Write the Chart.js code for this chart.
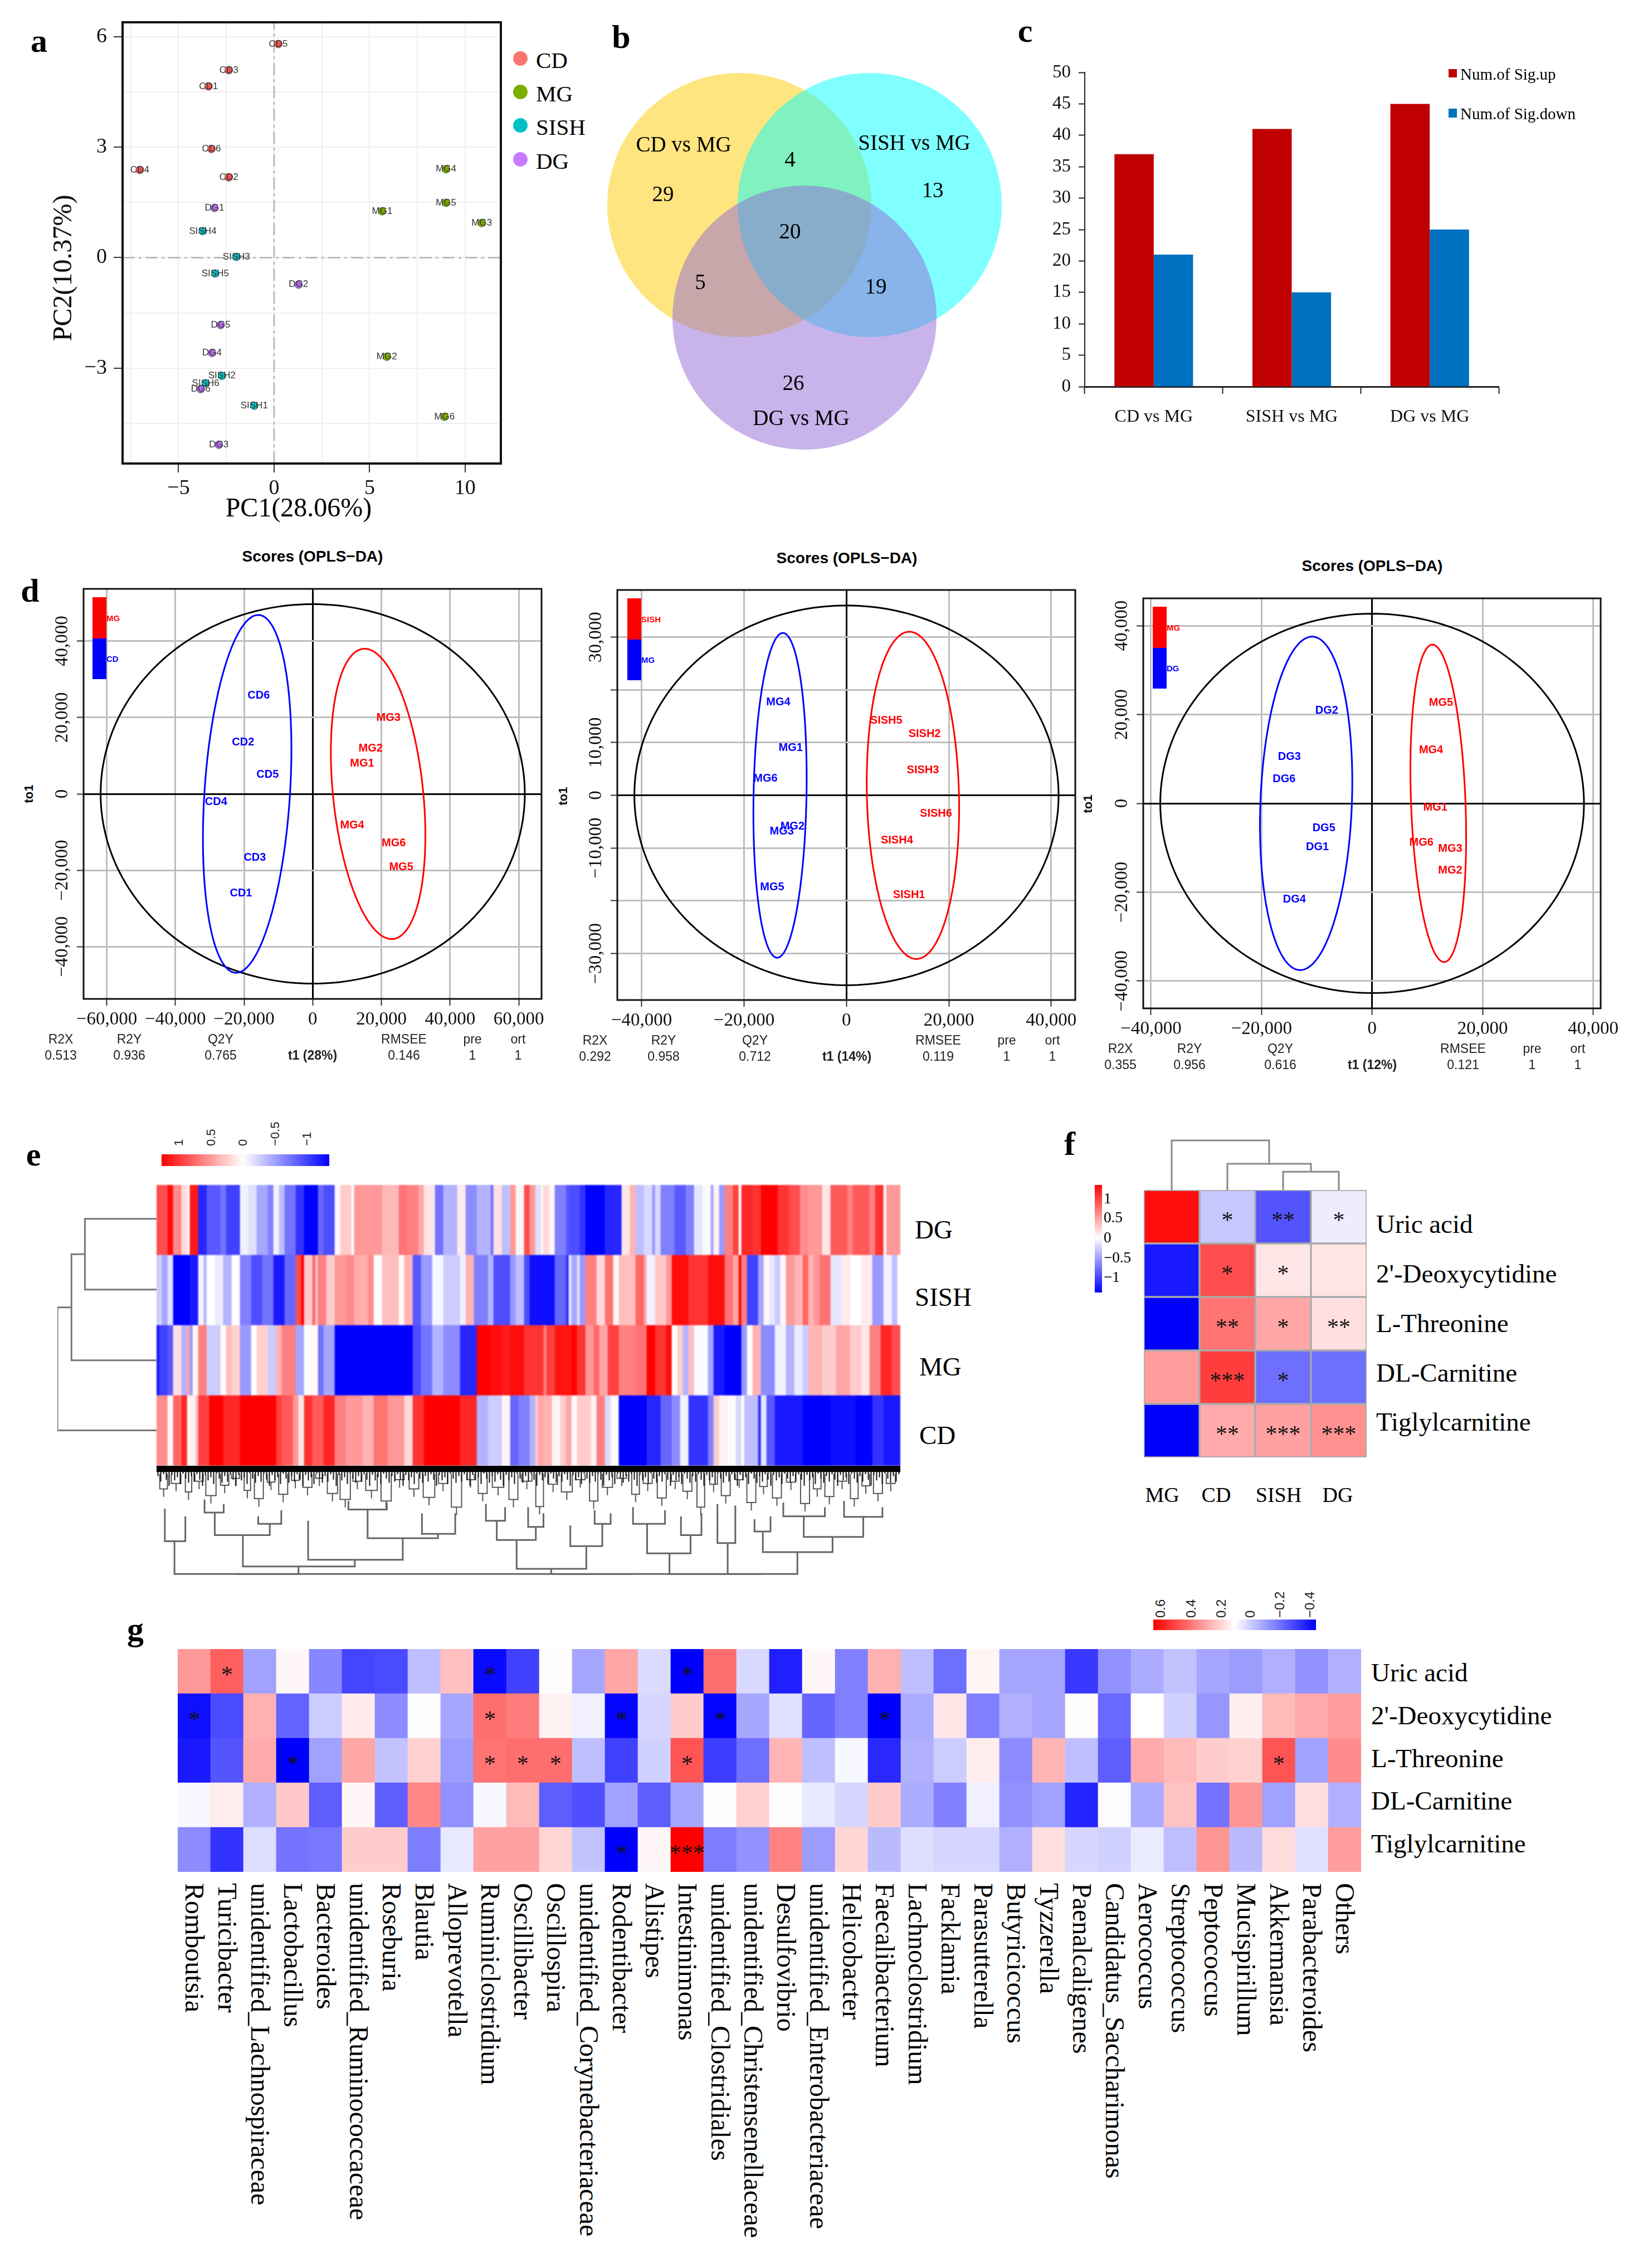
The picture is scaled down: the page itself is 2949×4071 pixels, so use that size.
<!DOCTYPE html>
<html>
<head>
<meta charset="utf-8">
<script src="https://cdn.jsdelivr.net/npm/chart.js@4/dist/chart.umd.js"></script>
<style>
  html, body { margin: 0; background: #fff; }
  #page { position: relative; width: 2949px; height: 4071px; overflow: hidden; background: #fff; }
</style>
</head>
<body>
<div id="page"></div>
<script>
const SERIF = '"Liberation Serif"';
const SANS = '"Liberation Sans"';

/* ===== a: PCA ===== */
const sampleCD = ["CD1", "CD2", "CD3", "CD4", "CD5", "CD6"];
const sampleMG = ["MG1", "MG2", "MG3", "MG4", "MG5", "MG6"];
const sampleSISH = ["SISH1", "SISH2", "SISH3", "SISH4", "SISH5", "SISH6"];
const sampleDG = ["DG1", "DG2", "DG3", "DG4", "DG5", "DG6"];
const pcaCDx = [-3.43, -2.37, -2.37, -7.03, 0.22, -3.28];
const pcaCDy = [4.65, 2.18, 5.09, 2.38, 5.8, 2.95];
const pcaMGx = [5.66, 5.9, 10.87, 9.0, 9.0, 8.92];
const pcaMGy = [1.26, -2.69, 0.94, 2.4, 1.49, -4.32];
const pcaSISHx = [-1.04, -2.73, -1.97, -3.73, -3.08, -3.58];
const pcaSISHy = [-4.02, -3.21, 0.02, 0.72, -0.43, -3.41];
const pcaDGx = [-3.12, 1.28, -2.89, -3.25, -2.8, -3.84];
const pcaDGy = [1.35, -0.73, -5.08, -2.59, -1.83, -3.57];
const pcaXGrid = [-7.5, -5, -2.5, 0, 2.5, 5, 7.5, 10];
const pcaYGrid = [-4.5, -3, -1.5, 0, 1.5, 3, 4.5, 6];

/* ===== b: venn ===== */
const vennNames = ["CD vs MG", "SISH vs MG", "DG vs MG"];
const vennX = [247, 481, 364];
const vennY = [452, 452, 250];

/* ===== c: bars ===== */
const barCategories = ["CD vs MG", "SISH vs MG", "DG vs MG"];
const sigUp = [37, 41, 45];
const sigDown = [21, 15, 25];

/* ===== d: OPLS-DA scores ===== */
const d1BlueNames = ["CD1", "CD2", "CD3", "CD4", "CD5", "CD6"];
const d1BlueX = [-20900, -20280, -16860, -28140, -13140, -15730];
const d1BlueY = [-25970, 13480, -16760, -2100, 5010, 25780];
const d1RedNames = ["MG1", "MG2", "MG3", "MG4", "MG5", "MG6"];
const d1RedX = [14380, 16860, 22040, 11480, 25760, 23590];
const d1RedY = [7930, 11840, 19950, -8200, -19130, -12940];

const d2BlueNames = ["MG1", "MG2", "MG3", "MG4", "MG5", "MG6"];
const d2BlueX = [-10890, -10550, -12630, -13320, -14500, -15820];
const d2BlueY = [8980, -5870, -6860, 17690, -17430, 3170];
const d2RedNames = ["SISH1", "SISH2", "SISH3", "SISH4", "SISH5", "SISH6"];
const d2RedX = [12210, 15260, 14920, 9850, 7770, 17480];
const d2RedY = [-18940, 11620, 4820, -8510, 14130, -3430];

const d3BlueNames = ["DG1", "DG2", "DG3", "DG4", "DG5", "DG6"];
const d3BlueX = [-9890, -8220, -14960, -14060, -8730, -15920];
const d3BlueY = [-9870, 20920, 10420, -21630, -5560, 5410];
const d3RedNames = ["MG1", "MG2", "MG3", "MG4", "MG5", "MG6"];
const d3RedX = [11430, 14130, 14130, 10660, 12460, 8920];
const d3RedY = [-940, -15120, -10190, 11990, 22640, -8780];

/* ===== e: heatmap, runs of [number of metabolites, scaled value] ===== */
const heatGroups = ["DG", "SISH", "MG", "CD"];
const stripsDG = [[4,.7],[2,.95],[3,.45],[2,.15],[1,.05],[3,.9],[3,-.85],[5,-.65],[2,-.55],[5,-.75],[3,-.05],[3,-.12],[4,-.35],[2,-.5],[2,-.05],[2,-.25],[4,-.55],[3,-.8],[5,-1],[2,-.6],[4,-.7],[2,.02],[4,.2],[1,.02],[10,.4],[6,.28],[3,.55],[4,.5],[2,.35],[4,.1],[3,-.55],[5,-.3],[3,.08],[4,-.45],[5,-.3],[1,-.55],[3,.12],[3,-.25],[2,.4],[3,.03],[2,.7],
  [2,.4],[2,-.12],[1,.05],[2,.15],[2,.03],[4,-.5],[1,-.65],[4,-.7],[2,-.8],[7,-1],[6,-.85],[3,.1],[2,.3],[3,-.25],[3,-.15],[1,-.4],[2,-.15],[5,-.5],[4,-.65],[3,-.5],[3,-.1],[3,-.02],[1,-.35],[2,.05],[2,-.4],[3,.5],[2,.75],[1,.02],[4,.85],[3,.8],[6,1],[4,.8],[4,.7],[3,.45],[5,.4],[3,.1],[6,.65],[2,.5],[6,.65],[2,.5],[3,.8],[1,.02],[5,.4]];
const stripsSISH = [[2,-.2],[2,-.35],[2,-.12],[6,-1],[3,-.9],[2,-.05],[1,-.3],[3,0],[3,-.08],[3,-.3],[3,0],[4,-.5],[4,-.7],[4,-.55],[4,-.9],[4,-.6],[2,.7],[1,1],[3,.2],[1,.6],[1,.25],[3,.5],[3,.2],[4,.4],[3,.45],[5,.32],[2,.45],[3,0],[6,.25],[2,.03],[3,.3],[3,-.65],[4,-.4],[4,-.03],[6,-.2],[2,-.05],[3,.3],[5,-.5],[2,-.3],[6,-.7],[2,-.4],[3,-.25],[2,-.7],
  [9,-.95],[4,-.6],[1,-.8],[1,-.1],[2,-.35],[1,-.12],[2,-.4],[4,.5],[3,.15],[3,.55],[2,.03],[6,.25],[3,.6],[1,.35],[3,-.05],[4,.22],[2,.4],[6,.95],[7,.8],[6,.95],[3,.55],[2,.35],[1,.95],[2,.5],[4,-.75],[2,-.35],[2,.03],[2,-.1],[2,-.2],[2,.03],[3,.4],[3,.3],[2,.6],[2,.3],[2,.4],[4,.55],[4,-.1],[3,.08],[4,0],[4,.08],[4,-.4],[3,-.05],[2,-.25],[1,0]];
const stripsMG = [[1,-.9],[3,-.75],[2,-.65],[3,.12],[2,-.3],[1,.35],[1,-.4],[2,.03],[3,.5],[5,-.2],[2,.02],[2,.25],[3,.18],[4,-.4],[2,0],[4,.18],[3,-.2],[2,.3],[5,.5],[3,-.35],[2,0],[3,.02],[2,-.55],[4,-.35],[28,-1],[3,-.7],[4,-.55],[4,-.3],[6,-.45],[6,-.85],[5,1],[4,.95],[3,.9],[5,.95],[2,.8],
  [5,.8],[1,.5],[3,.75],[6,.92],[2,1],[3,.8],[3,.4],[2,.6],[3,.35],[4,.75],[6,.5],[4,.55],[3,1],[4,.8],[2,.95],[2,0],[2,.2],[2,-.3],[2,.25],[5,-.02],[2,-.35],[4,-.9],[6,-1],[2,-.4],[2,0],[3,.3],[5,-.45],[4,-.05],[3,-.3],[3,-.08],[2,-.2],[5,.3],[5,.2],[5,.35],[4,.2],[3,.1],[4,.5],[4,.85],[3,.7]];
const stripsCD = [[4,.45],[2,.02],[3,.6],[2,.85],[3,.05],[1,.25],[4,.75],[5,1],[6,.85],[13,1],[2,.75],[4,.65],[2,.4],[2,.1],[3,.8],[4,.65],[4,.85],[4,.5],[6,.4],[4,.3],[5,.55],[6,.4],[3,.15],[4,.8],[13,1],[6,.85],[4,-.3],[5,-.2],[3,.03],[3,-.6],[4,-.5],
  [2,-.3],[1,.2],[2,.35],[3,.3],[3,.05],[2,.2],[2,.35],[2,.02],[5,.2],[2,.05],[3,.5],[2,-.15],[3,-.02],[10,-1],[5,-.85],[4,-.6],[3,-.45],[3,-.05],[7,-.8],[2,-.5],[2,.2],[3,.05],[3,.02],[2,-.15],[1,0],[5,-.25],[1,-.8],[2,-.1],[3,-.65],[10,-.9],[10,-1],[9,-.95],[6,-1],[4,-.8],[6,-.9]];
/* e: dendrograms, [from, to, level, end of first arm, end of second arm] */
const heatRowTree = [[133,347,581,245,245],[112,464,815,133,245],[90,640,1047,112,245]];
const heatColTree = [[273,1247,1520,1412,1448],[380,555,1495,1392,1473],[482,630,1473,1345,1402],[336,422,1392,1318,1355],[258,290,1412,1305,1330],[575,685,1402,1308,1388],[660,712,1388,1320,1320],[808,917,1503,1408,1428],[777,838,1408,1345,1365],[892,942,1428,1360,1355],[1012,1080,1452,1355,1392],[1065,1097,1392,1330,1320],[990,1040,1355,1300,1310],[1122,1150,1418,1290,1295],[1193,1302,1448,1380,1398],[1257,1350,1398,1330,1332],[1180,1205,1380,1340,1330],[1320,1380,1332,1280,1300],[404,440,1355,1330,1310],[320,350,1318,1275,1290],[760,790,1345,1290,1300],[826,850,1365,1300,1320],[930,955,1355,1310,1320],[545,605,1308,1280,1285],[1225,1290,1330,1285,1300],[467,467,1520,1495,1495],[862,862,1520,1503,1503],[1047,1047,1520,1452,1452],[1138,1138,1520,1418,1418],[370,467,1521,1521,1521],[862,990,1521,1521,1521],[1045,1135,1521,1521,1521],[1138,1192,1521,1521,1521]];
const heatTwigs = [[250,262,1240],[268,283,1222],[290,300,1250],[305,318,1215],[322,338,1262],[345,358,1228],[362,375,1205],[382,392,1245],[398,412,1272],[418,430,1218],[436,450,1258],[456,468,1212],[474,488,1235],[494,505,1205],[512,528,1255],[532,548,1275],[552,566,1215],[572,590,1245],[596,612,1280],[618,632,1210],[640,655,1240],[662,680,1268],[686,700,1222],[706,722,1300],[730,742,1210],[748,762,1255],[770,788,1235],[796,810,1275],[816,832,1215],[838,850,1298],[858,872,1225],[878,895,1250],[900,915,1210],[922,935,1280],[942,958,1235],[965,980,1205],[988,1000,1258],[1006,1020,1222],[1028,1042,1270],[1050,1062,1215],[1068,1082,1248],[1090,1102,1300],[1110,1122,1225],[1128,1142,1262],[1150,1162,1210],[1168,1182,1285],[1188,1200,1232],[1208,1222,1270],[1230,1244,1218],[1252,1266,1288],[1272,1284,1240],[1290,1304,1265],[1310,1324,1215],[1330,1342,1272],[1348,1360,1230],[1366,1380,1255],[1386,1400,1222]];
const leafDrop = [34, 52, 28, 46, 66, 30, 48, 38, 60, 26, 42, 56];

/* ===== f: metabolite heatmap ===== */
const metabolites = ["Uric acid", "2'-Deoxycytidine", "L-Threonine", "DL-Carnitine", "Tiglylcarnitine"];
const fGroups = ["MG", "CD", "SISH", "DG"];
const fUric = [0.95, -0.22, -0.67, -0.07];
const fDeoxy = [-0.9, 0.7, 0.1, 0.1];
const fThreonine = [-1, 0.55, 0.35, 0.12];
const fCarnitine = [0.39, 0.76, -0.57, -0.57];
const fTiglyl = [-1, 0.33, 0.37, 0.43];
const fStars = [[1,0,"*"],[2,0,"**"],[3,0,"*"],[1,1,"*"],[2,1,"*"],[1,2,"**"],[2,2,"*"],[3,2,"**"],[1,3,"***"],[2,3,"*"],[1,4,"**"],[2,4,"***"],[3,4,"***"]];
const fTree = [[0.5,2.25,187,0,99],[1.5,3,99,0,69],[2.5,3.5,69,0,0]];

/* ===== g: genus correlation heatmap ===== */
const genera = ["Romboutsia","Turicibacter","unidentified_Lachnospiraceae","Lactobacillus","Bacteroides","unidentified_Ruminococcaceae","Roseburia","Blautia","Alloprevotella","Ruminiclostridium","Oscillibacter","Oscillospira","unidentified_Corynebacteriaceae","Rodentibacter","Alistipes","Intestinimonas","unidentified_Clostridiales","unidentified_Christensenellaceae","Desulfovibrio","unidentified_Enterobacteriaceae","Helicobacter","Faecalibacterium","Lachnoclostridium","Facklamia","Parasutterella","Butyricicoccus","Tyzzerella","Paenalcaligenes","Candidatus_Saccharimonas","Aerococcus","Streptococcus","Peptococcus","Mucispirillum","Akkermansia","Parabacteroides","Others"];
const gUric = [.4,.63,-.37,.03,-.47,-.73,-.71,-.25,.25,-.96,-.75,.01,-.35,.35,-.14,-1,.57,-.15,-.88,.03,-.5,.31,-.25,-.57,.04,-.35,-.35,-.78,-.43,-.33,-.24,-.35,-.39,-.31,-.43,-.31];
const gDeoxy = [-.94,-.71,.31,-.61,-.2,.08,-.45,-.01,-.35,.57,.51,.05,-.06,-.98,-.16,.2,-.98,-.35,-.12,-.6,-.5,-1,-.33,.1,-.5,-.31,-.35,.01,-.59,0,-.18,-.41,.06,.27,.33,.39];
const gThreonine = [-.9,-.67,.33,-1,-.37,.35,-.24,.18,-.39,.55,.57,.57,-.25,-.75,-.18,.67,-.76,-.57,.29,-.25,-.03,-.84,-.31,-.2,.07,-.45,.29,-.25,-.63,.33,.27,.2,.18,.67,-.37,.45];
const gCarnitine = [-.03,.07,-.31,.22,-.63,.03,-.63,.47,-.43,-.03,.27,-.63,-.69,-.37,-.63,-.35,.01,.18,-.01,-.09,-.16,.2,-.33,-.49,-.06,-.43,-.37,-.86,-.01,-.33,.24,-.55,.41,-.37,.13,-.31];
const gTiglyl = [-.45,-.8,-.13,-.55,-.53,.2,.2,-.51,-.09,.37,.37,.16,-.24,-1,.03,1,-.51,-.43,.49,-.39,.16,-.27,-.13,-.16,-.16,-.31,.13,-.16,-.18,-.08,-.25,.41,-.27,.14,-.12,.39];
const gStars = [[1,0,"*"],[9,0,"*"],[15,0,"*"],[0,1,"*"],[9,1,"*"],[13,1,"*"],[16,1,"*"],[21,1,"*"],[3,2,"*"],[9,2,"*"],[10,2,"*"],[11,2,"*"],[15,2,"*"],[33,2,"*"],[13,4,"*"],[15,4,"***"]];

const page = document.getElementById("page");
Chart.defaults.layout.autoPadding = false;

function place(x, y, w, h) {
  const c = document.createElement("canvas");
  c.width = w;
  c.height = h;
  c.style.cssText = `position:absolute;left:${x}px;top:${y}px;width:${w}px;height:${h}px`;
  page.appendChild(c);
  return c;
}

function label(text, x, y, o = {}) {
  const s = document.createElement("span");
  s.textContent = text;
  const ax = o.ax === undefined ? -50 : o.ax;
  s.style.cssText = `position:absolute;left:${x}px;top:${y}px;white-space:nowrap;font:${o.weight || "normal"} ${o.size || 32}px/1 ${o.font || SERIF};color:${o.color || "#000"};transform-origin:0 0;transform:rotate(${o.rot || 0}deg) translate(${ax}%,-50%)`;
  page.appendChild(s);
}

function box(x, y, w, h, css) {
  const d = document.createElement("div");
  d.style.cssText = `position:absolute;left:${x}px;top:${y}px;width:${w}px;height:${h}px;${css}`;
  page.appendChild(d);
}

function draw(canvas, config) {
  config.options = Object.assign(
    { responsive: false, animation: false, devicePixelRatio: 1 },
    config.options
  );
  config.options.plugins = { legend: { display: false }, tooltip: { enabled: false } };
  return new Chart(canvas, config);
}

const xy = (xs, ys) => xs.map((x, i) => ({ x: x, y: ys[i] }));
const minus = (v) => String(v).replace("-", "\u2212");
const thousands = (v) => minus(v.toLocaleString("en-US"));
const hidden = (min, max, extra) => Object.assign({ display: false, min: min, max: max }, extra);

// fixed axis size and no overflow padding, so the plot box lands where the figure has it
function fixAxis(s, size) {
  if (s.isHorizontal()) s.height = size;
  else s.width = size;
  s.paddingTop = s.paddingBottom = s.paddingLeft = s.paddingRight = 0;
}

function heatColor(v) {
  const c = Math.round(255 * (1 - Math.min(1, Math.abs(v))));
  return v >= 0 ? `rgb(255,${c},${c})` : `rgb(${c},${c},255)`;
}

/* plugins */
const framePlugin = (width, color) => ({
  id: "frame",
  afterDraw(chart) {
    const a = chart.chartArea, ctx = chart.ctx;
    ctx.save();
    ctx.strokeStyle = color;
    ctx.lineWidth = width;
    ctx.strokeRect(a.left, a.top, a.right - a.left, a.bottom - a.top);
    ctx.restore();
  },
});

const namesPlugin = (font) => ({
  id: "names",
  afterDatasetsDraw(chart) {
    const ctx = chart.ctx;
    ctx.save();
    ctx.font = font;
    ctx.textAlign = "center";
    ctx.textBaseline = "middle";
    chart.data.datasets.forEach((ds, i) => {
      if (!ds.names) return;
      ctx.fillStyle = ds.nameColor;
      chart.getDatasetMeta(i).data.forEach((pt, k) => ctx.fillText(ds.names[k], pt.x, pt.y));
    });
    ctx.restore();
  },
});

// ellipse: centre x, centre y, half width, half height, correlation, colour
const ellipsePlugin = (list) => ({
  id: "ellipses",
  afterDatasetsDraw(chart) {
    const ctx = chart.ctx, sx = chart.scales.x, sy = chart.scales.y;
    ctx.save();
    ctx.lineWidth = 3;
    list.forEach(([cx, cy, w, h, rho, color]) => {
      ctx.strokeStyle = color;
      ctx.beginPath();
      for (let t = 0; t <= 240; t++) {
        const a = (t / 240) * 2 * Math.PI;
        const px = sx.getPixelForValue(cx + w * Math.cos(a));
        const py = sy.getPixelForValue(cy + h * (rho * Math.cos(a) + Math.sqrt(1 - rho * rho) * Math.sin(a)));
        if (t === 0) ctx.moveTo(px, py);
        else ctx.lineTo(px, py);
      }
      ctx.closePath();
      ctx.stroke();
    });
    ctx.restore();
  },
});

const rotatedTicks = (values, x, font) => ({
  id: "rotatedTicks",
  afterDraw(chart) {
    const ctx = chart.ctx, sy = chart.scales.y;
    values.forEach((v) => {
      ctx.save();
      ctx.translate(x, sy.getPixelForValue(v));
      ctx.rotate(-Math.PI / 2);
      ctx.font = font;
      ctx.fillStyle = "#111";
      ctx.textAlign = "center";
      ctx.textBaseline = "middle";
      ctx.fillText(thousands(v), 0, 0);
      ctx.restore();
    });
  },
});

const starPlugin = (stars, nRows) => ({
  id: "stars",
  afterDatasetsDraw(chart) {
    const ctx = chart.ctx;
    ctx.save();
    ctx.font = "42px " + SERIF;
    ctx.fillStyle = "#111";
    ctx.textAlign = "center";
    ctx.textBaseline = "middle";
    stars.forEach(([col, row, text]) => {
      const px = chart.scales.x.getPixelForValue(col);
      const py = chart.scales.y.getPixelForValue(nRows - row - 0.5);
      ctx.fillText(text, px, py + 9);
    });
    ctx.restore();
  },
});

function heatmap(x, y, w, h, rows, border, plugins) {
  const canvas = place(x, y, w, h);
  draw(canvas, {
    type: "bar",
    data: {
      labels: rows[0].map((_, i) => i),
      datasets: rows.slice().reverse().map((r) => ({
        data: r.map(() => 1),
        backgroundColor: r.map(heatColor),
        borderWidth: border,
        borderColor: "#aaa",
        borderSkipped: false,
        barPercentage: 1,
        categoryPercentage: 1,
      })),
    },
    options: {
      scales: {
        x: { display: false, stacked: true },
        y: hidden(0, rows.length, { stacked: true }),
      },
    },
    plugins: plugins || [],
  });
  return canvas;
}

function treeSegments(tree) {
  const pts = [];
  tree.forEach(([a, b, level, endA, endB]) => {
    pts.push({ x: a, y: endA }, { x: a, y: level }, { x: b, y: level }, { x: b, y: endB }, { x: NaN, y: NaN });
  });
  return pts;
}

const treeLine = (data, color, width) => ({
  data: data,
  showLine: true,
  pointRadius: 0,
  borderColor: color,
  borderWidth: width,
  clip: 6,
});

/* ===== panel letters ===== */
[["a", 70, 73], ["b", 1115, 66], ["c", 1840, 55], ["d", 54, 1060], ["e", 60, 2072], ["f", 1920, 2053], ["g", 243, 2924]].forEach(
  ([t, x, y]) => label(t, x, y, { size: 60, weight: "bold" })
);

/* ===== a ===== */
const pcaColors = ["#E8564F", "#7CAE00", "#00BFC4", "#B56BEE"];
const pcaLegend = ["#F8766D", "#7CAE00", "#00BFC4", "#C77CFF"];
draw(place(60, 20, 849, 880), {
  type: "scatter",
  data: {
    datasets: [
      { data: xy(pcaCDx, pcaCDy), names: sampleCD, nameColor: "#333", backgroundColor: pcaColors[0], order: 1 },
      { data: xy(pcaMGx, pcaMGy), names: sampleMG, nameColor: "#333", backgroundColor: pcaColors[1], order: 1 },
      { data: xy(pcaSISHx, pcaSISHy), names: sampleSISH, nameColor: "#333", backgroundColor: pcaColors[2], order: 1 },
      { data: xy(pcaDGx, pcaDGy), names: sampleDG, nameColor: "#333", backgroundColor: pcaColors[3], order: 1 },
      { data: [{ x: -7.93, y: 0 }, { x: 11.87, y: 0 }], showLine: true, pointRadius: 0, borderColor: "#bbb", borderWidth: 3, borderDash: [22, 7, 5, 7], order: 5 },
      { data: [{ x: 0, y: -5.59 }, { x: 0, y: 6.39 }], showLine: true, pointRadius: 0, borderColor: "#bbb", borderWidth: 3, borderDash: [22, 7, 5, 7], order: 5 },
    ],
  },
  options: {
    layout: { padding: { top: 20, right: 10 } },
    elements: { point: { radius: 7, borderColor: "rgba(40,40,40,.65)", borderWidth: 1 } },
    scales: {
      x: {
        min: -7.93, max: 11.87,
        afterBuildTicks: (s) => { s.ticks = pcaXGrid.map((v) => ({ value: v })); },
        afterFit: (s) => fixAxis(s, 68),
        border: { display: false },
        grid: { color: "#efefef", lineWidth: 2, tickLength: 16, tickWidth: 2, tickColor: (c) => (c.tick.value % 5 === 0 ? "#333" : "transparent") },
        ticks: { autoSkip: false, maxRotation: 0, padding: 6, color: "#111", font: { family: SERIF, size: 38 }, callback: (v) => (v % 5 === 0 ? minus(v) : "") },
      },
      y: {
        min: -5.59, max: 6.39,
        afterBuildTicks: (s) => { s.ticks = pcaYGrid.map((v) => ({ value: v })); },
        afterFit: (s) => fixAxis(s, 160),
        border: { display: false },
        grid: { color: "#efefef", lineWidth: 2, tickLength: 16, tickWidth: 2, tickColor: (c) => (c.tick.value % 3 === 0 ? "#333" : "transparent") },
        ticks: { autoSkip: false, padding: 12, color: "#111", font: { family: SERIF, size: 38 }, callback: (v) => (v % 3 === 0 ? minus(v) : "") },
      },
    },
  },
  plugins: [framePlugin(4, "#111"), namesPlugin("17px " + SANS)],
});
label("PC1(28.06%)", 536, 911, { size: 48 });
label("PC2(10.37%)", 112, 481, { size: 48, rot: -90 });
["CD", "MG", "SISH", "DG"].forEach((g, i) => {
  const y = [105, 165, 225, 286][i];
  box(921, y - 13, 26, 26, `border-radius:50%;background:${pcaLegend[i]}`);
  label(g, 962, y + 3, { size: 41, ax: 0 });
});

/* ===== b ===== */
const vennFill = ["rgba(255,204,0,.5)", "rgba(0,255,255,.5)", "rgba(145,105,215,.5)"];
draw(place(1080, 120, 730, 700), {
  type: "bubble",
  data: {
    datasets: vennNames.map((n, i) => ({
      label: n,
      data: [{ x: vennX[i], y: vennY[i], r: 237 }],
      backgroundColor: vennFill[i],
      borderWidth: 0,
      clip: false,
      order: 3 - i,
    })),
  },
  options: { scales: { x: hidden(0, 730), y: hidden(0, 700) } },
});
[["CD vs MG", 1227, 258], ["SISH vs MG", 1641, 255], ["DG vs MG", 1438, 749], ["29", 1190, 347], ["4", 1418, 285], ["13", 1674, 340], ["20", 1418, 414], ["5", 1257, 505], ["19", 1572, 513], ["26", 1424, 686]].forEach(
  ([t, x, y]) => label(t, x, y, { size: 39 })
);

/* ===== c ===== */
draw(place(1880, 110, 820, 680), {
  type: "bar",
  data: {
    labels: barCategories,
    datasets: [
      { label: "Num.of Sig.up", data: sigUp, backgroundColor: "#C00000", barPercentage: 1, categoryPercentage: 0.57 },
      { label: "Num.of Sig.down", data: sigDown, backgroundColor: "#0070C0", barPercentage: 1, categoryPercentage: 0.57 },
    ],
  },
  options: {
    layout: { padding: { top: 20, right: 10 } },
    scales: {
      x: {
        afterFit: (s) => fixAxis(s, 96),
        border: { color: "#222", width: 3 },
        grid: { drawOnChartArea: false, offset: true, tickLength: 13, tickColor: "#222", tickWidth: 2 },
        ticks: { padding: 22, color: "#111", font: { family: SERIF, size: 32 } },
      },
      y: {
        min: 0, max: 50,
        afterFit: (s) => fixAxis(s, 67),
        border: { color: "#222", width: 2 },
        grid: { drawOnChartArea: false, tickLength: 11, tickColor: "#222", tickWidth: 2 },
        ticks: { stepSize: 5, padding: 14, color: "#111", font: { family: SERIF, size: 33 } },
      },
    },
  },
});
box(2600, 124, 15, 15, "background:#C00000");
label("Num.of Sig.up", 2621, 133, { size: 29, ax: 0 });
box(2600, 195, 15, 16, "background:#0070C0");
label("Num.of Sig.down", 2621, 204, { size: 29, ax: 0 });

/* ===== d ===== */
function scorePanel(p) {
  const ticksFont = { family: SERIF, size: 33 };
  draw(place(p.left - 70, p.top - 5, p.right - p.left + 115, p.bottom - p.top + 65), {
    type: "scatter",
    data: {
      datasets: [
        { data: xy(p.blueX, p.blueY), names: p.blueNames, nameColor: "#0000ff", pointRadius: 0 },
        { data: xy(p.redX, p.redY), names: p.redNames, nameColor: "#ff0000", pointRadius: 0 },
      ],
    },
    options: {
      layout: { padding: { top: 5, right: 45 } },
      scales: {
        x: {
          min: p.xMin, max: p.xMax,
          afterBuildTicks: (s) => { s.ticks = p.xTicks.map((v) => ({ value: v })); },
          afterFit: (s) => fixAxis(s, 60),
          border: { display: false },
          grid: { color: (c) => (c.tick.value === 0 ? "#000" : "#bebebe"), lineWidth: 3, tickLength: 12, tickWidth: 2, tickColor: "#333" },
          ticks: { autoSkip: false, maxRotation: 0, padding: 6, color: "#111", font: ticksFont, callback: (v) => thousands(v) },
        },
        y: {
          min: p.yMin, max: p.yMax,
          afterBuildTicks: (s) => { s.ticks = p.yTicks.map((v) => ({ value: v })); },
          afterFit: (s) => fixAxis(s, 70),
          border: { display: false },
          grid: { color: (c) => (c.tick.value === 0 ? "#000" : "#bebebe"), lineWidth: 3, tickLength: 12, tickWidth: 2, tickColor: "#333" },
          ticks: { display: false },
        },
      },
    },
    plugins: [framePlugin(3, "#111"), ellipsePlugin(p.ellipses), namesPlugin("bold 20px " + SANS), rotatedTicks(p.yLabels, 32, "33px " + SERIF)],
  });
  label("Scores (OPLS\u2212DA)", p.titleX, p.titleY, { size: 28, weight: "bold", font: SANS });
  label("to1", p.to1X, p.to1Y, { size: 22, weight: "bold", font: SANS, rot: -90 });
  const [ly1, ly2] = p.footY;
  ["R2X", "R2Y", "Q2Y", "", "RMSEE", "pre", "ort"].forEach((h, i) => {
    if (h) label(h, p.footX[i], ly1, { size: 23, font: SANS, color: "#222" });
    label(p.foot[i], p.footX[i], ly2, { size: 23, font: SANS, color: "#222", weight: i === 3 ? "bold" : "normal" });
  });
  box(p.legX, p.legY, 25, 74, "background:#f00");
  box(p.legX, p.legY + 74, 25, 73, "background:#00f");
  label(p.legend[0], p.legX + 25, p.legY + 37, { size: 15, weight: "bold", font: SANS, color: "#f00", ax: 0 });
  label(p.legend[1], p.legX + 25, p.legY + 110, { size: 15, weight: "bold", font: SANS, color: "#00f", ax: 0 });
}

scorePanel({
  left: 150, right: 972, top: 1057, bottom: 1793,
  xMin: -66730, xMax: 66630, yMin: -53660, yMax: 53660,
  xTicks: [-60000, -40000, -20000, 0, 20000, 40000, 60000],
  yTicks: [-40000, -20000, 0, 20000, 40000],
  yLabels: [-40000, -20000, 0, 20000, 40000],
  blueX: d1BlueX, blueY: d1BlueY, blueNames: d1BlueNames,
  redX: d1RedX, redY: d1RedY, redNames: d1RedNames,
  ellipses: [[0, 0, 61760, 49660, 0, "#000"], [-19090, 0, 12880, 46830, 0.25, "#0000ff"], [19040, 0, 13760, 37990, -0.286, "#ff0000"]],
  titleX: 561, titleY: 999, to1X: 52, to1Y: 1425,
  footX: [109, 232, 396, 561, 725, 848, 930], footY: [1865, 1894],
  foot: ["0.513", "0.936", "0.765", "t1 (28%)", "0.146", "1", "1"],
  legX: 166, legY: 1072, legend: ["MG", "CD"],
});
scorePanel({
  left: 1108, right: 1930, top: 1059, bottom: 1795,
  xMin: -44750, xMax: 44680, yMin: -38810, yMax: 38940,
  xTicks: [-40000, -20000, 0, 20000, 40000],
  yTicks: [-30000, -20000, -10000, 0, 10000, 20000, 30000],
  yLabels: [-30000, -10000, 0, 10000, 30000],
  blueX: d2BlueX, blueY: d2BlueY, blueNames: d2BlueNames,
  redX: d2RedX, redY: d2RedY, redNames: d2RedNames,
  ellipses: [[0, 0, 41420, 36000, 0, "#000"], [-12975, 0, 5200, 30790, 0.107, "#0000ff"], [12975, 0, 9020, 31020, -0.077, "#ff0000"]],
  titleX: 1520, titleY: 1002, to1X: 1011, to1Y: 1429,
  footX: [1068, 1191, 1355, 1520, 1684, 1807, 1889], footY: [1867, 1896],
  foot: ["0.292", "0.958", "0.712", "t1 (14%)", "0.119", "1", "1"],
  legX: 1126, legY: 1074, legend: ["SISH", "MG"],
});
scorePanel({
  left: 2052, right: 2873, top: 1074, bottom: 1810,
  xMin: -41410, xMax: 41350, yMin: -46150, yMax: 46150,
  xTicks: [-40000, -20000, 0, 20000, 40000],
  yTicks: [-40000, -20000, 0, 20000, 40000],
  yLabels: [-40000, -20000, 0, 20000, 40000],
  blueX: d3BlueX, blueY: d3BlueY, blueNames: d3BlueNames,
  redX: d3RedX, redY: d3RedY, redNames: d3RedNames,
  ellipses: [[0, 0, 38330, 42700, 0, "#000"], [-11940, 0, 8350, 37530, 0.13, "#0000ff"], [11970, 0, 5040, 35730, -0.21, "#ff0000"]],
  titleX: 2463, titleY: 1016, to1X: 1953, to1Y: 1443,
  footX: [2011, 2135, 2298, 2463, 2626, 2750, 2832], footY: [1882, 1911],
  foot: ["0.355", "0.956", "0.616", "t1 (12%)", "0.121", "1", "1"],
  legX: 2069, legY: 1089, legend: ["MG", "DG"],
});

/* ===== e ===== */
const expand = (runs) => runs.flatMap(([n, v]) => Array(n).fill(v));
const heatRows = [stripsDG, stripsSISH, stripsMG, stripsCD].map(expand);
heatmap(281, 2127, 1335, 504, heatRows, 0).style.filter = "blur(1.2px)";
[[0, 1642, 2207], [1, 1642, 2328], [2, 1650, 2453], [3, 1650, 2576]].forEach(([i, x, y]) =>
  label(heatGroups[i], x, y, { size: 47, ax: 0 })
);
box(290, 2072, 301, 21, "background:linear-gradient(to right,#f00,#fff 48.5%,#00f)");
[["1", 321], ["0.5", 379], ["0", 436], ["\u22120.5", 494], ["\u22121", 551]].forEach(([t, x]) =>
  label(t, x, 2057, { size: 22, font: SANS, rot: -90, ax: 0, color: "#222" })
);
// row dendrogram
draw(place(103, 2127, 178, 504), {
  type: "scatter",
  data: {
    datasets: [treeLine(
      heatRowTree.flatMap(([xp, y1, y2, x1, x2]) => [{ x: x1, y: y1 }, { x: xp, y: y1 }, { x: xp, y: y2 }, { x: x2, y: y2 }, { x: NaN, y: NaN }]),
      "#777", 3
    )],
  },
  options: { scales: { x: hidden(90, 245), y: hidden(235, 1164, { reverse: true }) } },
});
// column dendrogram
const leafLines = [];
heatRows[0].forEach((_, i) => {
  const lx = 245 + ((i + 0.5) * 1163) / heatRows[0].length;
  leafLines.push({ x: lx, y: 1164 }, { x: lx, y: 1164 + leafDrop[i % leafDrop.length] }, { x: NaN, y: NaN });
});
const twigLines = [];
heatTwigs.forEach(([a, b, y]) => {
  twigLines.push({ x: a, y: 1190 }, { x: a, y: y }, { x: b, y: y }, { x: b, y: 1190 }, { x: NaN, y: NaN });
  twigLines.push({ x: (a + b) / 2, y: y }, { x: (a + b) / 2, y: y + 26 }, { x: NaN, y: NaN });
});
draw(place(281, 2631, 1335, 196), {
  type: "scatter",
  data: {
    datasets: [
      treeLine([{ x: 245, y: 1172 }, { x: 1408, y: 1172 }], "#000", 14),
      treeLine(leafLines, "#111", 2),
      treeLine(twigLines, "#555", 2),
      treeLine(treeSegments(heatColTree), "#666", 3),
    ],
  },
  options: { scales: { x: hidden(245, 1408), y: hidden(1164, 1523, { reverse: true }) } },
});

/* ===== f ===== */
heatmap(2053, 2136, 400, 480, [fUric, fDeoxy, fThreonine, fCarnitine, fTiglyl], 2, [starPlugin(fStars, 5)]);
metabolites.forEach((m, i) => label(m, 2470, [2197, 2286, 2375, 2464, 2552][i], { size: 47, ax: 0 }));
fGroups.forEach((g, i) => label(g, [2086, 2183, 2295, 2401][i], 2683, { size: 38 }));
draw(place(2053, 2045, 400, 91), {
  type: "scatter",
  data: { datasets: [treeLine(treeSegments(fTree), "#888", 3)] },
  options: { layout: { padding: { top: 2 } }, scales: { x: hidden(0, 4), y: hidden(0, 187) } },
});
box(1965, 2127, 13, 193, "background:linear-gradient(to bottom,#f00,#fff 49%,#00f)");
[["1", 2151], ["0.5", 2185], ["0", 2221], ["\u22120.5", 2257], ["\u22121", 2292]].forEach(([t, y]) =>
  label(t, 1981, y, { size: 27, ax: 0 })
);

/* ===== g ===== */
heatmap(319, 2960, 2124, 400, [gUric, gDeoxy, gThreonine, gCarnitine, gTiglyl], 0, [starPlugin(gStars, 5)]);
metabolites.forEach((m, i) => label(m, 2461, [3002, 3079, 3156, 3232, 3309][i], { size: 47, ax: 0 }));
genera.forEach((g, i) => label(g, 319 + 59 * (i + 0.5), 3380, { size: 48, rot: 90, ax: 0 }));
box(2070, 2907, 292, 19, "background:linear-gradient(to right,#f00,#fff 50%,#00f)");
[["0.6", 2083], ["0.4", 2138], ["0.2", 2192], ["0", 2244], ["\u22120.2", 2297], ["\u22120.4", 2351]].forEach(([t, x]) =>
  label(t, x, 2904, { size: 24, font: SANS, rot: -90, ax: 0, color: "#222" })
);
</script>
</body>
</html>
